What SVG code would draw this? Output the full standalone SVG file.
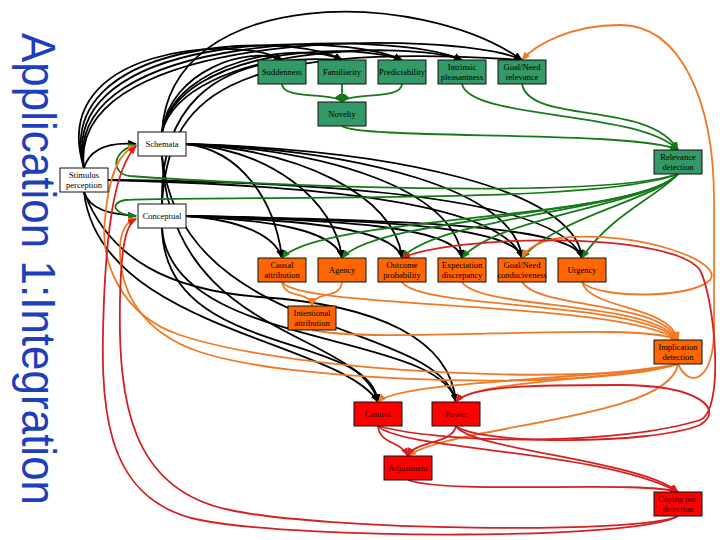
<svg xmlns="http://www.w3.org/2000/svg" width="720" height="540" viewBox="0 0 720 540">
<style>
.e{fill:none;stroke-width:1.8}
.k{stroke:#000;marker-end:url(#ak)}
.g{stroke:#167a1a;marker-end:url(#ag)}
.o{stroke:#ef7a26;marker-end:url(#ao)}
.r{stroke:#d42020;marker-end:url(#ar)}
.n rect{stroke:#111;stroke-width:1}
.w rect{fill:#fff}
.gn rect{fill:#339966}
.on rect{fill:#ff6600}
.rn rect{fill:#ff0000}
.n text{font-family:"Liberation Serif","Times New Roman",serif;font-size:8.5px;fill:#000;text-anchor:middle}
.rn text{fill:#300}
</style>
<defs>
<marker id="ak" markerUnits="userSpaceOnUse" markerWidth="9" markerHeight="7" refX="8" refY="3.5" orient="auto"><path d="M0,0L9,3.5L0,7z" fill="#000"/></marker>
<marker id="ag" markerUnits="userSpaceOnUse" markerWidth="9" markerHeight="7" refX="8" refY="3.5" orient="auto"><path d="M0,0L9,3.5L0,7z" fill="#167a1a"/></marker>
<marker id="ao" markerUnits="userSpaceOnUse" markerWidth="9" markerHeight="7" refX="8" refY="3.5" orient="auto"><path d="M0,0L9,3.5L0,7z" fill="#ef7a26"/></marker>
<marker id="ar" markerUnits="userSpaceOnUse" markerWidth="9" markerHeight="7" refX="8" refY="3.5" orient="auto"><path d="M0,0L9,3.5L0,7z" fill="#d42020"/></marker>
</defs>
<rect width="720" height="540" fill="#fff"/>
<text transform="translate(22,33) rotate(90) scale(1,1.1)" font-family="'Liberation Sans',Arial,sans-serif" font-size="44" fill="#1d3fbe">Application 1:Integration</text>
<g id="connectors">
<!-- black: stimulus perception -->
<path class="e k" d="M84,168 C90,148 110,142 136,144"/>
<path class="e k" d="M84,192 C90,210 110,214 136,216"/>
<path class="e k" d="M84,168 C45,45 240,35 282,60"/>
<path class="e k" d="M84,168 C50,38 290,30 342,60"/>
<path class="e k" d="M84,168 C55,32 340,30 402,60"/>
<path class="e k" d="M84,168 C60,28 400,30 462,60"/>
<path class="e k" d="M84,168 C65,25 460,30 522,60"/>
<path class="e k" d="M108,180 C300,185 500,200 522,258"/>
<path class="e k" d="M108,180 C350,182 560,200 582,258"/>
<path class="e k" d="M84,192 C110,260 170,290 260,297 C380,305 450,340 456,402"/>
<path class="e k" d="M84,192 C100,330 340,340 378,402"/>
<!-- black: schemata -->
<path class="e k" d="M162,132 C170,70 250,45 282,60"/>
<path class="e k" d="M162,132 C175,60 300,40 342,60"/>
<path class="e k" d="M162,132 C180,50 350,40 402,60"/>
<path class="e k" d="M162,132 C185,45 410,40 462,60"/>
<path class="e k" d="M162,132 C170,-15 420,-12 522,60"/>
<path class="e k" d="M186,144 C240,150 275,200 282,258"/>
<path class="e k" d="M186,144 C270,150 335,200 342,258"/>
<path class="e k" d="M186,144 C300,150 395,195 402,258"/>
<path class="e k" d="M186,144 C330,150 455,190 462,258"/>
<path class="e k" d="M186,144 C360,150 515,190 522,258"/>
<path class="e k" d="M186,144 C400,150 575,190 582,258"/>
<path class="e k" d="M162,156 C170,340 360,330 378,402"/>
<path class="e k" d="M162,156 C180,340 440,320 456,402"/>
<!-- black: conceptual -->
<path class="e k" d="M186,216 C240,220 275,235 282,258"/>
<path class="e k" d="M186,216 C270,220 335,230 342,258"/>
<path class="e k" d="M186,216 C300,220 395,228 402,258"/>
<path class="e k" d="M186,216 C340,220 455,226 462,258"/>
<path class="e k" d="M186,216 C370,220 515,225 522,258"/>
<path class="e k" d="M186,216 C400,220 575,225 582,258"/>
<path class="e k" d="M162,204 C160,120 200,50 342,60"/>
<path class="e k" d="M162,204 C168,100 220,40 522,60"/>
<path class="e k" d="M162,228 C165,360 370,330 378,402"/>
<path class="e k" d="M162,228 C170,350 440,330 456,402"/>
<!-- green -->
<path class="e g" d="M282,84 C282,100 335,92 342,102"/>
<path class="e g" d="M342,84 L342,102"/>
<path class="e g" d="M402,84 C402,100 350,92 342,102"/>
<path class="e g" d="M342,126 C360,140 640,130 678,150"/>
<path class="e g" d="M462,84 C470,120 640,110 678,150"/>
<path class="e g" d="M522,84 C530,125 650,100 678,150"/>
<path class="e g" d="M678,174 C600,200 250,185 130,176 C110,174 112,150 136,145"/>
<path class="e g" d="M678,174 C600,205 250,195 125,200 C110,203 112,214 136,216"/>
<path class="e g" d="M678,174 C640,220 320,215 282,258"/>
<path class="e g" d="M678,174 C640,215 380,215 342,258"/>
<path class="e g" d="M678,174 C645,210 440,215 402,258"/>
<path class="e g" d="M678,174 C650,205 500,215 462,258"/>
<path class="e g" d="M678,174 C655,200 560,215 522,258"/>
<path class="e g" d="M678,174 C660,195 610,215 582,258"/>
<!-- orange -->
<path class="e o" d="M282,282 C285,300 310,290 312,306"/>
<path class="e o" d="M342,282 C340,300 315,290 312,306"/>
<path class="e o" d="M282,282 C300,310 620,300 678,340"/>
<path class="e o" d="M312,330 C380,345 640,320 678,340"/>
<path class="e o" d="M402,282 C420,310 640,300 678,340"/>
<path class="e o" d="M462,282 C480,310 650,300 678,340"/>
<path class="e o" d="M522,282 C540,310 660,300 678,340"/>
<path class="e o" d="M582,282 C590,310 670,305 678,340"/>
<path class="e o" d="M582,282 C595,298 690,300 710,280 C725,262 640,230 560,238 C540,241 527,248 522,258"/>
<path class="e o" d="M678,364 C690,390 714,380 714,330 L714,200 C714,100 680,25 620,25 C570,25 535,45 522,60"/>
<path class="e o" d="M678,364 C600,385 300,375 180,335 C120,315 100,260 105,220 C108,180 118,152 136,146"/>
<path class="e o" d="M678,364 C600,390 300,385 200,352 C140,332 120,290 120,250 C120,232 125,222 136,218"/>
<path class="e o" d="M678,364 C600,380 400,380 378,402"/>
<path class="e o" d="M678,364 C620,380 470,380 456,402"/>
<path class="e o" d="M678,364 C670,420 450,425 408,456"/>
<!-- red -->
<path class="e r" d="M378,426 C380,445 400,440 408,456"/>
<path class="e r" d="M456,426 C452,445 415,440 408,456"/>
<path class="e r" d="M378,426 C400,450 600,450 678,492"/>
<path class="e r" d="M456,426 C470,450 640,460 678,492"/>
<path class="e r" d="M408,480 C450,495 640,480 678,492"/>
<path class="e r" d="M678,516 C640,540 300,540 200,520 C100,500 100,400 104,300 C107,230 114,170 136,146"/>
<path class="e r" d="M678,516 C640,535 320,530 230,510 C130,490 118,400 120,300 C121,250 125,225 136,219"/>
<path class="e r" d="M378,426 C450,445 620,445 700,420 C725,410 715,300 700,270 C670,230 450,235 402,258"/>
<path class="e r" d="M456,426 C480,445 650,445 700,425 C725,410 700,385 620,385 C540,385 470,385 456,402"/>
</g>
<g id="n-sudden" class="n gn"><rect x="258" y="60" width="48" height="24"/><text x="282" y="75">Suddenness</text></g>
<g id="n-familiar" class="n gn"><rect x="318" y="60" width="48" height="24"/><text x="342" y="75">Familiarity</text></g>
<g id="n-predict" class="n gn"><rect x="378" y="60" width="48" height="24"/><text x="402" y="75">Predictability</text></g>
<g id="n-intrinsic" class="n gn"><rect x="438" y="60" width="48" height="24"/><text x="462" y="70">Intrinsic</text><text x="462" y="80">pleasantness</text></g>
<g id="n-goalrel" class="n gn"><rect x="498" y="60" width="48" height="24"/><text x="522" y="70">Goal/Need</text><text x="522" y="80">relevance</text></g>
<g id="n-novelty" class="n gn"><rect x="318" y="102" width="48" height="24"/><text x="342" y="117">Novelty</text></g>
<g id="n-schemata" class="n w"><rect x="138" y="132" width="48" height="24"/><text x="162" y="147">Schemata</text></g>
<g id="n-reldet" class="n gn"><rect x="654" y="150" width="48" height="24"/><text x="678" y="160">Relevance</text><text x="678" y="170">detection</text></g>
<g id="n-stim" class="n w"><rect x="60" y="168" width="48" height="24"/><text x="84" y="178">Stimulus</text><text x="84" y="188">perception</text></g>
<g id="n-concept" class="n w"><rect x="138" y="204" width="48" height="24"/><text x="162" y="219">Conceptual</text></g>
<g id="n-causal" class="n on"><rect x="258" y="258" width="48" height="24"/><text x="282" y="268">Causal</text><text x="282" y="278">attribution</text></g>
<g id="n-agency" class="n on"><rect x="318" y="258" width="48" height="24"/><text x="342" y="273">Agency</text></g>
<g id="n-outcome" class="n on"><rect x="378" y="258" width="48" height="24"/><text x="402" y="268">Outcome</text><text x="402" y="278">probability</text></g>
<g id="n-expect" class="n on"><rect x="438" y="258" width="48" height="24"/><text x="462" y="268">Expectation</text><text x="462" y="278">discrepancy</text></g>
<g id="n-goalcond" class="n on"><rect x="498" y="258" width="48" height="24"/><text x="522" y="268">Goal/Need</text><text x="522" y="278">conduciveness</text></g>
<g id="n-urgency" class="n on"><rect x="558" y="258" width="48" height="24"/><text x="582" y="273">Urgency</text></g>
<g id="n-intent" class="n on"><rect x="288" y="306" width="48" height="24"/><text x="312" y="316">Intentional</text><text x="312" y="326">attribution</text></g>
<g id="n-impdet" class="n on"><rect x="654" y="340" width="48" height="24"/><text x="678" y="350">Implication</text><text x="678" y="360">detection</text></g>
<g id="n-control" class="n rn"><rect x="354" y="402" width="48" height="24"/><text x="378" y="417">Control</text></g>
<g id="n-power" class="n rn"><rect x="432" y="402" width="48" height="24"/><text x="456" y="417">Power</text></g>
<g id="n-adjust" class="n rn"><rect x="384" y="456" width="48" height="24"/><text x="408" y="471">Adjustment</text></g>
<g id="n-coping" class="n rn"><rect x="654" y="492" width="48" height="24"/><text x="678" y="502">Coping pot.</text><text x="678" y="512">detection</text></g>
</svg>
